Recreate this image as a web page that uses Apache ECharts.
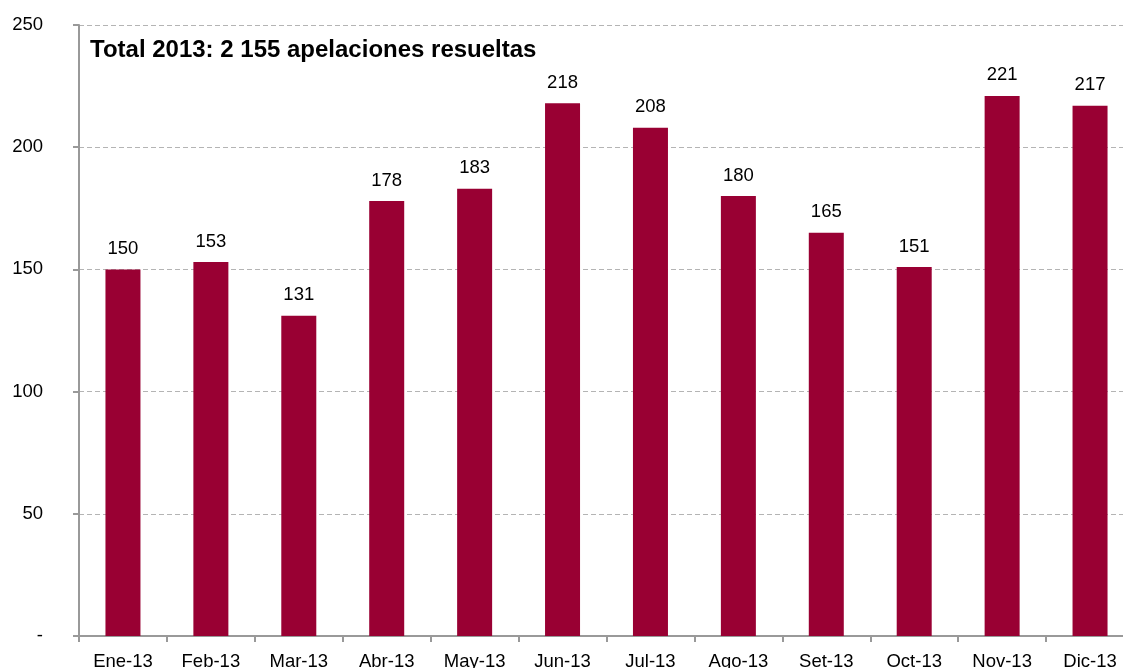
<!DOCTYPE html>
<html><head><meta charset="utf-8">
<script src="https://cdn.jsdelivr.net/npm/echarts@6/dist/echarts.min.js"></script>
<style>html,body{margin:0;padding:0;background:#fff}#c{width:1123px;height:668px}</style>
</head><body><div id="c"></div>
<script>
const categories = ['Ene-13','Feb-13','Mar-13','Abr-13','May-13','Jun-13','Jul-13','Ago-13','Set-13','Oct-13','Nov-13','Dic-13'];
const values = [150,153,131,178,183,218,208,180,165,151,221,217];
const titleText = 'Total 2013: 2 155 apelaciones resueltas';
const chart = echarts.init(document.getElementById('c'), null, {renderer:'canvas'});
const font = 'Liberation Sans, Arial, sans-serif';
chart.setOption({
  animation:false,
  textStyle:{fontFamily:font},
  title:{text:titleText,left:85,top:33,textStyle:{fontFamily:font,fontSize:24,fontWeight:'bold',color:'#000'}},
  grid:{left:79,top:25,width:1055,height:611,containLabel:false,outerBoundsMode:'none'},
  xAxis:{type:'category',data:categories,
    axisLine:{lineStyle:{color:'#999',width:2}},
    axisTick:{show:true,length:6,lineStyle:{color:'#999',width:2}},
    axisLabel:{color:'#000',fontSize:18.5,margin:16,fontFamily:font,interval:0}},
  yAxis:{type:'value',min:0,max:250,interval:50,
    axisLine:{show:true,lineStyle:{color:'#999',width:2}},
    axisTick:{show:true,length:6,lineStyle:{color:'#999',width:2}},
    splitLine:{lineStyle:{color:'#b4b4b4',type:[5,3],width:1}},
    axisLabel:{color:'#000',fontSize:18.5,margin:36,fontFamily:font,formatter:v=>v===0?'-':String(v)}},
  series:[{type:'bar',data:values,barWidth:35,itemStyle:{color:'#990033'},
    label:{show:true,position:'top',distance:11,color:'#000',fontSize:18.5,fontFamily:font}}]
});
</script></body></html>
